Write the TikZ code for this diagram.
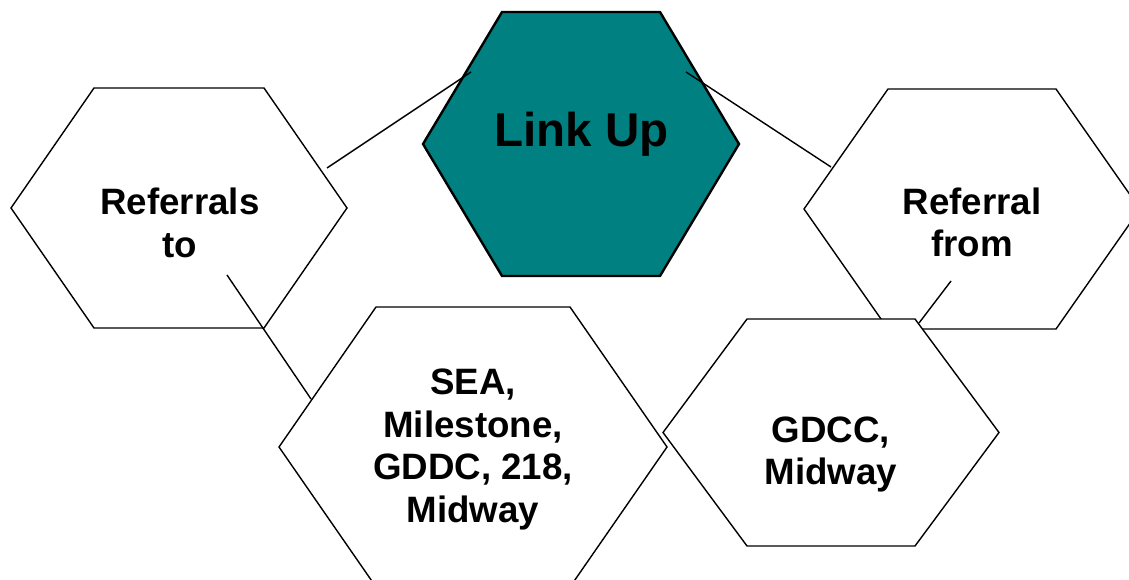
\documentclass[tikz,border=0pt]{standalone}
\usepackage{fontspec}
\setmainfont{Liberation Sans}
\definecolor{teal}{RGB}{0,128,128}
\newcommand\hexpath[5]{({#1-#3},#2) -- ({#1-#4},{#2-#5}) -- ({#1+#4},{#2-#5}) -- ({#1+#3},#2) -- ({#1+#4},{#2+#5}) -- ({#1-#4},{#2+#5}) -- cycle}
\tikzset{
  hexbox/.style={draw=black, fill=white, line width=1.4pt, line join=miter},
  hubbox/.style={draw=black, fill=teal, line width=2.4pt, line join=miter},
  lbl/.style={inner sep=0pt, align=center, font=\bfseries\fontsize{36.7}{42.7}\selectfont},
  hublbl/.style={inner sep=0pt, font=\bfseries\fontsize{47.5}{54}\selectfont},
  link/.style={draw=black, line width=1.4pt}
}
\begin{document}
\begin{tikzpicture}[x=1pt,y=-1pt]
\useasboundingbox (0,0) rectangle (1129,580);
\clip (0,0) rectangle (1129,580);
\fill[white] (0,0) rectangle (1129,580);
% hexagons
\path[hexbox] \hexpath{179}{208}{168}{85}{120};
\path[hexbox] \hexpath{972}{209}{168}{84}{120};
\path[hexbox] \hexpath{473}{447}{194}{97}{140};
\path[hexbox] \hexpath{831}{432.5}{168}{84}{113.5};
\path[hubbox] \hexpath{581}{144}{158}{79}{132};
% labels
\node[hublbl, anchor=base] (hub) at (581.5,146.5) {Link Up};
\node[lbl] (to) at (180,223) {Referrals\\to};
\node[lbl] (from) at (972,222.5) {Referral\\from};
\node[lbl] (sea) at (473,449.5) {SEA,\\Milestone,\\GDDC, 218,\\Midway};
\node[lbl] (gdcc) at (831,454.5) {GDCC,\\Midway};
% connector end points
\coordinate (a1) at (327,168);
\coordinate (a2) at (471,72);
\coordinate (b1) at (686,72);
\coordinate (b2) at (831,167);
\coordinate (c1) at (951,281);
\coordinate (c2) at (919,323);
\coordinate (d1) at (227,275);
\coordinate (d2) at (311,399);
\draw[link] (a1) -- (a2);
\draw[link] (b1) -- (b2);
\draw[link] (c1) -- (c2);
\draw[link] (d1) -- (d2);
\end{tikzpicture}
\end{document}
